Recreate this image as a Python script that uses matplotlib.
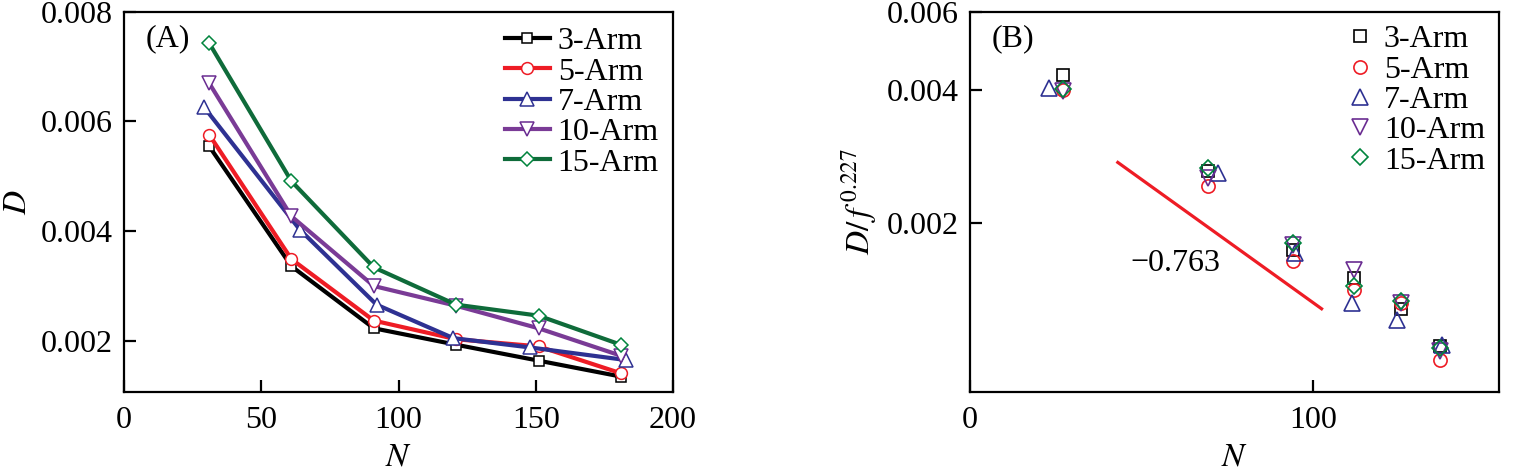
import numpy as np
import matplotlib
matplotlib.use("Agg")
import matplotlib.pyplot as plt
from matplotlib.ticker import FixedLocator, NullLocator

plt.rcParams['font.family'] = ['Liberation Serif', 'DejaVu Serif']
plt.rcParams['mathtext.fontset'] = 'stix'

# chain lengths (N = f*n + 1)
N_odd = [31, 61, 91, 121, 151, 181]
N_7 = [29, 64, 92, 120, 148, 183]

# diffusion coefficients
D_3 = [0.00555, 0.00336, 0.00223, 0.00193, 0.00164, 0.00135]
D_5 = [0.00576, 0.00349, 0.00237, 0.00203, 0.00190, 0.00141]
D_7 = [0.00627, 0.00403, 0.00266, 0.00205, 0.00188, 0.00165]
D_10 = [0.00670, 0.00427, 0.00300, 0.00264, 0.00223, 0.00173]
D_15 = [0.00743, 0.00491, 0.00334, 0.00266, 0.00246, 0.00193]

arms = [3, 5, 7, 10, 15]
labels = ['3-Arm', '5-Arm', '7-Arm', '10-Arm', '15-Arm']
Ns = [N_odd, N_odd, N_7, N_odd, N_odd]
Ds = [D_3, D_5, D_7, D_10, D_15]
expo = 0.227

# fitted slope line in panel B
fit_N = [40, 104]
fit_D = [0.00274, 0.00128]

colors = ['black', '#ee1c25', '#2e3192', '#7a3b96', '#0f6b3a']
mcolors = ['black', '#ee1c25', '#2e3192', '#6a2c91', '#00843d']
markers = ['s', 'o', '^', 'v', 'D']
msizes = [7.5, 8.5, 10, 10, 7.5]

fs = 23

fig = plt.figure(figsize=(15.13, 4.75), dpi=100)
axA = fig.add_axes([0.08196, 0.17411, 0.36286, 0.80126])
axB = fig.add_axes([0.64111, 0.17411, 0.34964, 0.80126])

for i in range(5):
	axA.plot(Ns[i], Ds[i], color=colors[i], lw=3.0, marker=markers[i], ms=msizes[i],
		mfc='white', mec=mcolors[i], mew=1.1, label=labels[i])

axA.set_xlim(0, 200)
axA.set_ylim(0.001063, 0.008)
axA.set_xticks([0, 50, 100, 150, 200])
axA.set_yticks([0.002, 0.004, 0.006, 0.008])
axA.set_yticklabels(['0.002', '0.004', '0.006', '0.008'])
axA.set_xlabel('$N$', fontsize=fs + 1, labelpad=5)
axA.set_ylabel('$D$', fontsize=fs + 1, labelpad=6)
axA.text(0.04, 0.93, '(A)', transform=axA.transAxes, fontsize=fs, va='center')
axA.legend(loc='upper left', bbox_to_anchor=(0.694, 0.96), frameon=False, fontsize=fs,
	borderpad=0, borderaxespad=0, handlelength=1.4, handletextpad=0.25, labelspacing=0.03)

for i in range(5):
	Dn = np.array(Ds[i]) / arms[i] ** expo
	axB.plot(Ns[i], Dn, ls='none', marker=markers[i], ms=msizes[i] + 1, mfc='none',
		mec=mcolors[i], mew=1.2, label=labels[i])
axB.plot(fit_N, fit_D, color='#ee1c25', lw=2.3)
axB.text(42.5, 0.00162, '\u22120.763', fontsize=fs, va='center')

axB.set_xscale('log')
axB.set_yscale('log')
axB.set_xlim(20, 239)
axB.set_ylim(0.000829, 0.006)
axB.xaxis.set_major_locator(FixedLocator([20, 100]))
axB.set_xticklabels(['0', '100'])
axB.xaxis.set_minor_locator(NullLocator())
axB.yaxis.set_major_locator(FixedLocator([0.002, 0.004, 0.006]))
axB.set_yticklabels(['0.002', '0.004', '0.006'])
axB.yaxis.set_minor_locator(NullLocator())
axB.set_xlabel('$N$', fontsize=fs + 1, labelpad=5)
axB.set_ylabel('$D/\\,f^{\\,0.227}$', fontsize=fs + 1, labelpad=6)
axB.text(0.04, 0.93, '(B)', transform=axB.transAxes, fontsize=fs, va='center')
axB.legend(loc='upper left', bbox_to_anchor=(0.716, 0.965), frameon=False, fontsize=fs,
	borderpad=0, borderaxespad=0, handlelength=0.7, handletextpad=0.4, labelspacing=0.03)

for ax in (axA, axB):
	for sp in ax.spines.values():
		sp.set_linewidth(1.6)
	ax.tick_params(direction='in', length=8.5, width=1.6, labelsize=fs, pad=8)
	ax.tick_params(axis='x', pad=10)

fig.savefig('out.png', dpi=100)
